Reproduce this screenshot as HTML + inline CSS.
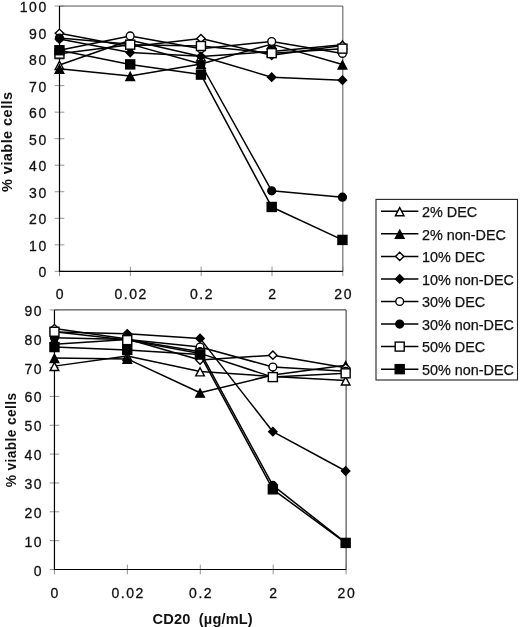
<!DOCTYPE html>
<html><head><meta charset="utf-8"><title>Chart</title>
<style>
html,body{margin:0;padding:0;background:#fff;}
body{width:520px;height:627px;overflow:hidden;font-family:"Liberation Sans",sans-serif;}
svg{display:block;transform:translateZ(0);will-change:transform;filter:blur(0.35px);}
text{font-family:"Liberation Sans",sans-serif;fill:#111;}
.tk{font-size:14px;letter-spacing:1.5px;stroke:#111;stroke-width:0.3px;}
.lg{font-size:14.4px;stroke:#111;stroke-width:0.25px;}
.ttl{font-size:14.6px;font-weight:bold;letter-spacing:0.4px;}
.ttb{font-size:13.8px;font-weight:bold;letter-spacing:0.35px;}
.ttx{font-size:14.6px;font-weight:bold;letter-spacing:0.15px;}
</style></head><body>
<svg width="520" height="627" viewBox="0 0 520 627">
<rect width="520" height="627" fill="#fff"/>
<path d="M59.5 6.05 H342.85 V271.35" fill="none" stroke="#555" stroke-width="1.0"/>
<line x1="54.7" x2="64.3" y1="271.35" y2="271.35" stroke="#777" stroke-width="0.8"/>
<text x="47.7" y="277.35" text-anchor="end" class="tk">0</text>
<line x1="54.7" x2="64.3" y1="244.82" y2="244.82" stroke="#777" stroke-width="0.8"/>
<text x="47.7" y="250.82" text-anchor="end" class="tk">10</text>
<line x1="54.7" x2="64.3" y1="218.29" y2="218.29" stroke="#777" stroke-width="0.8"/>
<text x="47.7" y="224.29" text-anchor="end" class="tk">20</text>
<line x1="54.7" x2="64.3" y1="191.76" y2="191.76" stroke="#777" stroke-width="0.8"/>
<text x="47.7" y="197.76" text-anchor="end" class="tk">30</text>
<line x1="54.7" x2="64.3" y1="165.23" y2="165.23" stroke="#777" stroke-width="0.8"/>
<text x="47.7" y="171.23" text-anchor="end" class="tk">40</text>
<line x1="54.7" x2="64.3" y1="138.70" y2="138.70" stroke="#777" stroke-width="0.8"/>
<text x="47.7" y="144.70" text-anchor="end" class="tk">50</text>
<line x1="54.7" x2="64.3" y1="112.17" y2="112.17" stroke="#777" stroke-width="0.8"/>
<text x="47.7" y="118.17" text-anchor="end" class="tk">60</text>
<line x1="54.7" x2="64.3" y1="85.64" y2="85.64" stroke="#777" stroke-width="0.8"/>
<text x="47.7" y="91.64" text-anchor="end" class="tk">70</text>
<line x1="54.7" x2="64.3" y1="59.11" y2="59.11" stroke="#777" stroke-width="0.8"/>
<text x="47.7" y="65.11" text-anchor="end" class="tk">80</text>
<line x1="54.7" x2="64.3" y1="32.58" y2="32.58" stroke="#777" stroke-width="0.8"/>
<text x="47.7" y="38.58" text-anchor="end" class="tk">90</text>
<line x1="54.7" x2="64.3" y1="6.05" y2="6.05" stroke="#777" stroke-width="0.8"/>
<text x="47.7" y="12.05" text-anchor="end" class="tk">100</text>
<line x1="59.50" x2="59.50" y1="266.55" y2="276.15000000000003" stroke="#777" stroke-width="0.8"/>
<text x="60.30" y="299.3" text-anchor="middle" class="tk">0</text>
<line x1="130.34" x2="130.34" y1="266.55" y2="276.15000000000003" stroke="#777" stroke-width="0.8"/>
<text x="131.14" y="299.3" text-anchor="middle" class="tk">0.02</text>
<line x1="201.18" x2="201.18" y1="266.55" y2="276.15000000000003" stroke="#777" stroke-width="0.8"/>
<text x="201.98" y="299.3" text-anchor="middle" class="tk">0.2</text>
<line x1="272.01" x2="272.01" y1="266.55" y2="276.15000000000003" stroke="#777" stroke-width="0.8"/>
<text x="272.81" y="299.3" text-anchor="middle" class="tk">2</text>
<line x1="342.85" x2="342.85" y1="266.55" y2="276.15000000000003" stroke="#777" stroke-width="0.8"/>
<text x="343.65" y="299.3" text-anchor="middle" class="tk">20</text>
<path d="M59.5 6.05 V271.35 H342.85" fill="none" stroke="#000" stroke-width="1.2"/>
<polyline points="59.45,65.05 130.20,40.17 200.95,56.58 271.70,51.55 342.45,44.67" fill="none" stroke="#000" stroke-width="1.5" stroke-linejoin="round"/>
<polygon points="59.45,61.36 63.75,69.48 55.15,69.48" fill="#fff" stroke="#000" stroke-width="1.4" stroke-linejoin="miter"/>
<polygon points="130.20,36.47 134.50,44.60 125.90,44.60" fill="#fff" stroke="#000" stroke-width="1.4" stroke-linejoin="miter"/>
<polygon points="200.95,52.88 205.25,61.01 196.65,61.01" fill="#fff" stroke="#000" stroke-width="1.4" stroke-linejoin="miter"/>
<polygon points="271.70,47.85 276.00,55.98 267.40,55.98" fill="#fff" stroke="#000" stroke-width="1.4" stroke-linejoin="miter"/>
<polygon points="342.45,40.97 346.75,49.10 338.15,49.10" fill="#fff" stroke="#000" stroke-width="1.4" stroke-linejoin="miter"/>
<polyline points="59.45,68.76 130.20,76.04 200.95,64.00 271.70,44.14 342.45,64.52" fill="none" stroke="#000" stroke-width="1.5" stroke-linejoin="round"/>
<polygon points="59.45,65.06 63.75,73.19 55.15,73.19" fill="#000" stroke="#000" stroke-width="1.4" stroke-linejoin="miter"/>
<polygon points="130.20,72.34 134.50,80.47 125.90,80.47" fill="#000" stroke="#000" stroke-width="1.4" stroke-linejoin="miter"/>
<polygon points="200.95,60.30 205.25,68.42 196.65,68.42" fill="#000" stroke="#000" stroke-width="1.4" stroke-linejoin="miter"/>
<polygon points="271.70,40.44 276.00,48.57 267.40,48.57" fill="#000" stroke="#000" stroke-width="1.4" stroke-linejoin="miter"/>
<polygon points="342.45,60.83 346.75,68.95 338.15,68.95" fill="#000" stroke="#000" stroke-width="1.4" stroke-linejoin="miter"/>
<polyline points="59.45,33.28 130.20,46.79 200.95,38.58 271.70,55.26 342.45,45.46" fill="none" stroke="#000" stroke-width="1.5" stroke-linejoin="round"/>
<polygon points="59.45,29.13 63.60,33.28 59.45,37.43 55.30,33.28" fill="#fff" stroke="#000" stroke-width="1.4"/>
<polygon points="130.20,42.64 134.35,46.79 130.20,50.94 126.05,46.79" fill="#fff" stroke="#000" stroke-width="1.4"/>
<polygon points="200.95,34.43 205.10,38.58 200.95,42.73 196.80,38.58" fill="#fff" stroke="#000" stroke-width="1.4"/>
<polygon points="271.70,51.11 275.85,55.26 271.70,59.41 267.55,55.26" fill="#fff" stroke="#000" stroke-width="1.4"/>
<polygon points="342.45,41.31 346.60,45.46 342.45,49.61 338.30,45.46" fill="#fff" stroke="#000" stroke-width="1.4"/>
<polyline points="59.45,39.11 130.20,52.61 200.95,56.32 271.70,77.23 342.45,80.14" fill="none" stroke="#000" stroke-width="1.5" stroke-linejoin="round"/>
<polygon points="59.45,34.96 63.60,39.11 59.45,43.26 55.30,39.11" fill="#000" stroke="#000" stroke-width="1.4"/>
<polygon points="130.20,48.46 134.35,52.61 130.20,56.76 126.05,52.61" fill="#000" stroke="#000" stroke-width="1.4"/>
<polygon points="200.95,52.17 205.10,56.32 200.95,60.47 196.80,56.32" fill="#000" stroke="#000" stroke-width="1.4"/>
<polygon points="271.70,73.08 275.85,77.23 271.70,81.38 267.55,77.23" fill="#000" stroke="#000" stroke-width="1.4"/>
<polygon points="342.45,75.99 346.60,80.14 342.45,84.29 338.30,80.14" fill="#000" stroke="#000" stroke-width="1.4"/>
<polyline points="59.45,50.23 130.20,35.93 200.95,48.64 271.70,41.49 342.45,53.41" fill="none" stroke="#000" stroke-width="1.5" stroke-linejoin="round"/>
<circle cx="59.45" cy="50.23" r="3.9" fill="#fff" stroke="#000" stroke-width="1.4"/>
<circle cx="130.20" cy="35.93" r="3.9" fill="#fff" stroke="#000" stroke-width="1.4"/>
<circle cx="200.95" cy="48.64" r="3.9" fill="#fff" stroke="#000" stroke-width="1.4"/>
<circle cx="271.70" cy="41.49" r="3.9" fill="#fff" stroke="#000" stroke-width="1.4"/>
<circle cx="342.45" cy="53.41" r="3.9" fill="#fff" stroke="#000" stroke-width="1.4"/>
<polyline points="59.45,38.05 130.20,44.14 200.95,64.00 271.70,190.81 342.45,197.16" fill="none" stroke="#000" stroke-width="1.5" stroke-linejoin="round"/>
<circle cx="59.45" cy="38.05" r="3.9" fill="#000" stroke="#000" stroke-width="1.4"/>
<circle cx="130.20" cy="44.14" r="3.9" fill="#000" stroke="#000" stroke-width="1.4"/>
<circle cx="200.95" cy="64.00" r="3.9" fill="#000" stroke="#000" stroke-width="1.4"/>
<circle cx="271.70" cy="190.81" r="3.9" fill="#000" stroke="#000" stroke-width="1.4"/>
<circle cx="342.45" cy="197.16" r="3.9" fill="#000" stroke="#000" stroke-width="1.4"/>
<polyline points="59.45,53.67 130.20,44.67 200.95,45.99 271.70,53.14 342.45,48.64" fill="none" stroke="#000" stroke-width="1.5" stroke-linejoin="round"/>
<rect x="54.95" y="49.17" width="9.0" height="9.0" fill="#fff" stroke="#000" stroke-width="1.4"/>
<rect x="125.70" y="40.17" width="9.0" height="9.0" fill="#fff" stroke="#000" stroke-width="1.4"/>
<rect x="196.45" y="41.49" width="9.0" height="9.0" fill="#fff" stroke="#000" stroke-width="1.4"/>
<rect x="267.20" y="48.64" width="9.0" height="9.0" fill="#fff" stroke="#000" stroke-width="1.4"/>
<rect x="337.95" y="44.14" width="9.0" height="9.0" fill="#fff" stroke="#000" stroke-width="1.4"/>
<polyline points="59.45,50.23 130.20,64.39 200.95,74.59 271.70,206.96 342.45,239.92" fill="none" stroke="#000" stroke-width="1.5" stroke-linejoin="round"/>
<rect x="54.95" y="45.73" width="9.0" height="9.0" fill="#000" stroke="#000" stroke-width="1.4"/>
<rect x="125.70" y="59.89" width="9.0" height="9.0" fill="#000" stroke="#000" stroke-width="1.4"/>
<rect x="196.45" y="70.09" width="9.0" height="9.0" fill="#000" stroke="#000" stroke-width="1.4"/>
<rect x="267.20" y="202.46" width="9.0" height="9.0" fill="#000" stroke="#000" stroke-width="1.4"/>
<rect x="337.95" y="235.42" width="9.0" height="9.0" fill="#000" stroke="#000" stroke-width="1.4"/>
<path d="M54.45 309.9 H346.1 V569.5" fill="none" stroke="#2a2a2a" stroke-width="1.0"/>
<line x1="49.650000000000006" x2="59.25" y1="569.50" y2="569.50" stroke="#777" stroke-width="0.8"/>
<text x="43.0" y="575.50" text-anchor="end" class="tk">0</text>
<line x1="49.650000000000006" x2="59.25" y1="540.66" y2="540.66" stroke="#777" stroke-width="0.8"/>
<text x="43.0" y="546.66" text-anchor="end" class="tk">10</text>
<line x1="49.650000000000006" x2="59.25" y1="511.81" y2="511.81" stroke="#777" stroke-width="0.8"/>
<text x="43.0" y="517.81" text-anchor="end" class="tk">20</text>
<line x1="49.650000000000006" x2="59.25" y1="482.97" y2="482.97" stroke="#777" stroke-width="0.8"/>
<text x="43.0" y="488.97" text-anchor="end" class="tk">30</text>
<line x1="49.650000000000006" x2="59.25" y1="454.12" y2="454.12" stroke="#777" stroke-width="0.8"/>
<text x="43.0" y="460.12" text-anchor="end" class="tk">40</text>
<line x1="49.650000000000006" x2="59.25" y1="425.28" y2="425.28" stroke="#777" stroke-width="0.8"/>
<text x="43.0" y="431.28" text-anchor="end" class="tk">50</text>
<line x1="49.650000000000006" x2="59.25" y1="396.43" y2="396.43" stroke="#777" stroke-width="0.8"/>
<text x="43.0" y="402.43" text-anchor="end" class="tk">60</text>
<line x1="49.650000000000006" x2="59.25" y1="367.59" y2="367.59" stroke="#777" stroke-width="0.8"/>
<text x="43.0" y="373.59" text-anchor="end" class="tk">70</text>
<line x1="49.650000000000006" x2="59.25" y1="338.74" y2="338.74" stroke="#777" stroke-width="0.8"/>
<text x="43.0" y="344.74" text-anchor="end" class="tk">80</text>
<line x1="49.650000000000006" x2="59.25" y1="309.90" y2="309.90" stroke="#777" stroke-width="0.8"/>
<text x="43.0" y="315.90" text-anchor="end" class="tk">90</text>
<line x1="54.45" x2="54.45" y1="564.7" y2="574.3" stroke="#777" stroke-width="0.8"/>
<text x="55.25" y="598.0" text-anchor="middle" class="tk">0</text>
<line x1="127.36" x2="127.36" y1="564.7" y2="574.3" stroke="#777" stroke-width="0.8"/>
<text x="128.16" y="598.0" text-anchor="middle" class="tk">0.02</text>
<line x1="200.28" x2="200.28" y1="564.7" y2="574.3" stroke="#777" stroke-width="0.8"/>
<text x="201.08" y="598.0" text-anchor="middle" class="tk">0.2</text>
<line x1="273.19" x2="273.19" y1="564.7" y2="574.3" stroke="#777" stroke-width="0.8"/>
<text x="273.99" y="598.0" text-anchor="middle" class="tk">2</text>
<line x1="346.10" x2="346.10" y1="564.7" y2="574.3" stroke="#777" stroke-width="0.8"/>
<text x="346.90" y="598.0" text-anchor="middle" class="tk">20</text>
<path d="M54.45 309.9 V569.5 H346.1" fill="none" stroke="#000" stroke-width="1.2"/>
<polyline points="54.45,366.12 127.25,356.01 200.05,371.47 272.85,376.52 345.65,380.57" fill="none" stroke="#000" stroke-width="1.5" stroke-linejoin="round"/>
<polygon points="54.45,362.42 58.75,370.55 50.15,370.55" fill="#fff" stroke="#000" stroke-width="1.4" stroke-linejoin="miter"/>
<polygon points="127.25,352.31 131.55,360.44 122.95,360.44" fill="#fff" stroke="#000" stroke-width="1.4" stroke-linejoin="miter"/>
<polygon points="200.05,367.77 204.35,375.90 195.75,375.90" fill="#fff" stroke="#000" stroke-width="1.4" stroke-linejoin="miter"/>
<polygon points="272.85,372.82 277.15,380.95 268.55,380.95" fill="#fff" stroke="#000" stroke-width="1.4" stroke-linejoin="miter"/>
<polygon points="345.65,376.87 349.95,385.00 341.35,385.00" fill="#fff" stroke="#000" stroke-width="1.4" stroke-linejoin="miter"/>
<polyline points="54.45,358.03 127.25,358.90 200.05,392.70 272.85,375.08 345.65,365.26" fill="none" stroke="#000" stroke-width="1.5" stroke-linejoin="round"/>
<polygon points="54.45,354.34 58.75,362.46 50.15,362.46" fill="#000" stroke="#000" stroke-width="1.4" stroke-linejoin="miter"/>
<polygon points="127.25,355.20 131.55,363.33 122.95,363.33" fill="#000" stroke="#000" stroke-width="1.4" stroke-linejoin="miter"/>
<polygon points="200.05,389.00 204.35,397.13 195.75,397.13" fill="#000" stroke="#000" stroke-width="1.4" stroke-linejoin="miter"/>
<polygon points="272.85,371.38 277.15,379.51 268.55,379.51" fill="#000" stroke="#000" stroke-width="1.4" stroke-linejoin="miter"/>
<polygon points="345.65,361.56 349.95,369.68 341.35,369.68" fill="#000" stroke="#000" stroke-width="1.4" stroke-linejoin="miter"/>
<polyline points="54.45,328.57 127.25,338.97 200.05,360.06 272.85,355.14 345.65,367.86" fill="none" stroke="#000" stroke-width="1.5" stroke-linejoin="round"/>
<polygon points="54.45,324.42 58.60,328.57 54.45,332.72 50.30,328.57" fill="#fff" stroke="#000" stroke-width="1.4"/>
<polygon points="127.25,334.82 131.40,338.97 127.25,343.12 123.10,338.97" fill="#fff" stroke="#000" stroke-width="1.4"/>
<polygon points="200.05,355.91 204.20,360.06 200.05,364.21 195.90,360.06" fill="#fff" stroke="#000" stroke-width="1.4"/>
<polygon points="272.85,350.99 277.00,355.14 272.85,359.29 268.70,355.14" fill="#fff" stroke="#000" stroke-width="1.4"/>
<polygon points="345.65,363.71 349.80,367.86 345.65,372.01 341.50,367.86" fill="#fff" stroke="#000" stroke-width="1.4"/>
<polyline points="54.45,332.03 127.25,333.77 200.05,338.39 272.85,431.70 345.65,470.99" fill="none" stroke="#000" stroke-width="1.5" stroke-linejoin="round"/>
<polygon points="54.45,327.88 58.60,332.03 54.45,336.18 50.30,332.03" fill="#000" stroke="#000" stroke-width="1.4"/>
<polygon points="127.25,329.62 131.40,333.77 127.25,337.92 123.10,333.77" fill="#000" stroke="#000" stroke-width="1.4"/>
<polygon points="200.05,334.24 204.20,338.39 200.05,342.54 195.90,338.39" fill="#000" stroke="#000" stroke-width="1.4"/>
<polygon points="272.85,427.55 277.00,431.70 272.85,435.85 268.70,431.70" fill="#000" stroke="#000" stroke-width="1.4"/>
<polygon points="345.65,466.84 349.80,470.99 345.65,475.14 341.50,470.99" fill="#000" stroke="#000" stroke-width="1.4"/>
<polyline points="54.45,344.17 127.25,339.54 200.05,347.06 272.85,366.99 345.65,371.32" fill="none" stroke="#000" stroke-width="1.5" stroke-linejoin="round"/>
<circle cx="54.45" cy="344.17" r="3.9" fill="#fff" stroke="#000" stroke-width="1.4"/>
<circle cx="127.25" cy="339.54" r="3.9" fill="#fff" stroke="#000" stroke-width="1.4"/>
<circle cx="200.05" cy="347.06" r="3.9" fill="#fff" stroke="#000" stroke-width="1.4"/>
<circle cx="272.85" cy="366.99" r="3.9" fill="#fff" stroke="#000" stroke-width="1.4"/>
<circle cx="345.65" cy="371.32" r="3.9" fill="#fff" stroke="#000" stroke-width="1.4"/>
<polyline points="54.45,337.81 127.25,339.54 200.05,351.68 272.85,485.43 345.65,542.63" fill="none" stroke="#000" stroke-width="1.5" stroke-linejoin="round"/>
<circle cx="54.45" cy="337.81" r="3.9" fill="#000" stroke="#000" stroke-width="1.4"/>
<circle cx="127.25" cy="339.54" r="3.9" fill="#000" stroke="#000" stroke-width="1.4"/>
<circle cx="200.05" cy="351.68" r="3.9" fill="#000" stroke="#000" stroke-width="1.4"/>
<circle cx="272.85" cy="485.43" r="3.9" fill="#000" stroke="#000" stroke-width="1.4"/>
<circle cx="345.65" cy="542.63" r="3.9" fill="#000" stroke="#000" stroke-width="1.4"/>
<polyline points="54.45,331.74 127.25,340.12 200.05,353.41 272.85,377.10 345.65,373.34" fill="none" stroke="#000" stroke-width="1.5" stroke-linejoin="round"/>
<rect x="49.95" y="327.24" width="9.0" height="9.0" fill="#fff" stroke="#000" stroke-width="1.4"/>
<rect x="122.75" y="335.62" width="9.0" height="9.0" fill="#fff" stroke="#000" stroke-width="1.4"/>
<rect x="195.55" y="348.91" width="9.0" height="9.0" fill="#fff" stroke="#000" stroke-width="1.4"/>
<rect x="268.35" y="372.60" width="9.0" height="9.0" fill="#fff" stroke="#000" stroke-width="1.4"/>
<rect x="341.15" y="368.84" width="9.0" height="9.0" fill="#fff" stroke="#000" stroke-width="1.4"/>
<polyline points="54.45,347.06 127.25,349.94 200.05,354.57 272.85,489.33 345.65,542.92" fill="none" stroke="#000" stroke-width="1.5" stroke-linejoin="round"/>
<rect x="49.95" y="342.56" width="9.0" height="9.0" fill="#000" stroke="#000" stroke-width="1.4"/>
<rect x="122.75" y="345.44" width="9.0" height="9.0" fill="#000" stroke="#000" stroke-width="1.4"/>
<rect x="195.55" y="350.07" width="9.0" height="9.0" fill="#000" stroke="#000" stroke-width="1.4"/>
<rect x="268.35" y="484.83" width="9.0" height="9.0" fill="#000" stroke="#000" stroke-width="1.4"/>
<rect x="341.15" y="538.42" width="9.0" height="9.0" fill="#000" stroke="#000" stroke-width="1.4"/>
<text transform="translate(12.4,141.7) rotate(-90)" text-anchor="middle" class="ttl">% viable cells</text>
<text transform="translate(16.0,439.9) rotate(-90)" text-anchor="middle" class="ttb">% viable cells</text>
<text x="202.7" y="623.5" text-anchor="middle" class="ttx" style="white-space:pre">CD20  (µg/mL)</text>
<rect x="376" y="199.4" width="141.5" height="180.6" fill="#fff" stroke="#222" stroke-width="1.1"/>
<line x1="381" x2="418.4" y1="211.30" y2="211.30" stroke="#000" stroke-width="1.5"/>
<polygon points="399.70,207.60 404.00,215.73 395.40,215.73" fill="#fff" stroke="#000" stroke-width="1.4" stroke-linejoin="miter"/>
<text x="422.0" y="217.10" class="lg">2% DEC</text>
<line x1="381" x2="418.4" y1="233.85" y2="233.85" stroke="#000" stroke-width="1.5"/>
<polygon points="399.70,230.15 404.00,238.28 395.40,238.28" fill="#000" stroke="#000" stroke-width="1.4" stroke-linejoin="miter"/>
<text x="422.0" y="239.65" class="lg">2% non-DEC</text>
<line x1="381" x2="418.4" y1="256.40" y2="256.40" stroke="#000" stroke-width="1.5"/>
<polygon points="399.70,252.25 403.85,256.40 399.70,260.55 395.55,256.40" fill="#fff" stroke="#000" stroke-width="1.4"/>
<text x="422.0" y="262.20" class="lg">10% DEC</text>
<line x1="381" x2="418.4" y1="278.95" y2="278.95" stroke="#000" stroke-width="1.5"/>
<polygon points="399.70,274.80 403.85,278.95 399.70,283.10 395.55,278.95" fill="#000" stroke="#000" stroke-width="1.4"/>
<text x="422.0" y="284.75" class="lg">10% non-DEC</text>
<line x1="381" x2="418.4" y1="301.50" y2="301.50" stroke="#000" stroke-width="1.5"/>
<circle cx="399.70" cy="301.50" r="3.9" fill="#fff" stroke="#000" stroke-width="1.4"/>
<text x="422.0" y="307.30" class="lg">30% DEC</text>
<line x1="381" x2="418.4" y1="324.05" y2="324.05" stroke="#000" stroke-width="1.5"/>
<circle cx="399.70" cy="324.05" r="3.9" fill="#000" stroke="#000" stroke-width="1.4"/>
<text x="422.0" y="329.85" class="lg">30% non-DEC</text>
<line x1="381" x2="418.4" y1="346.60" y2="346.60" stroke="#000" stroke-width="1.5"/>
<rect x="395.20" y="342.10" width="9.0" height="9.0" fill="#fff" stroke="#000" stroke-width="1.4"/>
<text x="422.0" y="352.40" class="lg">50% DEC</text>
<line x1="381" x2="418.4" y1="369.15" y2="369.15" stroke="#000" stroke-width="1.5"/>
<rect x="395.20" y="364.65" width="9.0" height="9.0" fill="#000" stroke="#000" stroke-width="1.4"/>
<text x="422.0" y="374.95" class="lg">50% non-DEC</text>
</svg>
</body></html>
